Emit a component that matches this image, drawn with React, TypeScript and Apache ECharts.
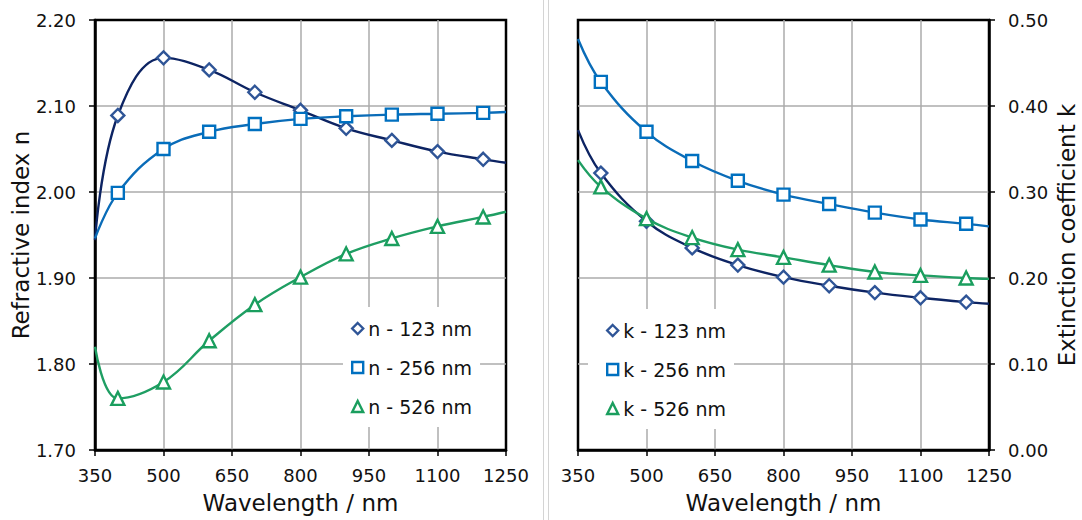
import React, { useEffect, useRef } from "react";
import * as echarts from "echarts";

// Wavelength positions of the data (nm); markers are shown at 400..1200 only
const wavelengths = [350, 400, 500, 600, 700, 800, 900, 1000, 1100, 1200, 1250];
const markerWavelengths = [400, 500, 600, 700, 800, 900, 1000, 1100, 1200];

// Refractive index n
const n123 = [1.944, 2.089, 2.156, 2.142, 2.116, 2.095, 2.074, 2.06, 2.047, 2.038, 2.034];
const n256 = [1.946, 1.999, 2.05, 2.07, 2.079, 2.085, 2.088, 2.09, 2.091, 2.092, 2.093];
const n526 = [1.82, 1.76, 1.779, 1.827, 1.869, 1.901, 1.928, 1.946, 1.96, 1.971, 1.977];

// Extinction coefficient k
const k123 = [0.372, 0.322, 0.266, 0.235, 0.215, 0.201, 0.191, 0.183, 0.177, 0.172, 0.17];
const k256 = [0.478, 0.428, 0.37, 0.336, 0.313, 0.297, 0.286, 0.276, 0.268, 0.263, 0.26];
const k526 = [0.337, 0.306, 0.269, 0.247, 0.233, 0.224, 0.215, 0.207, 0.203, 0.2, 0.199];

const xTicks = [350, 500, 650, 800, 950, 1100, 1250];
const nNames = ["n - 123 nm", "n - 256 nm", "n - 526 nm"];
const kNames = ["k - 123 nm", "k - 256 nm", "k - 526 nm"];

const FONT = "DejaVu Sans";
const NAVY = "#0d2463";
const NAVY_MARK = "#2f5597";
const BLUE = "#0a6cb8";
const BLUE_MARK = "#0070c0";
const GREEN = "#1f9e63";
const GREEN_MARK = "#1a9e5e";
const GRIDC = "#ababab";

const styles = [
  { symbol: "diamond", line: NAVY, mark: NAVY_MARK, size: 13 },
  { symbol: "rect", line: BLUE, mark: BLUE_MARK, size: 12 },
  { symbol: "triangle", line: GREEN, mark: GREEN_MARK, size: 13 },
];

function buildData(values: number[], symbol: string) {
  return wavelengths.map((w, i) => ({
    value: [w, values[i]],
    symbol: markerWavelengths.includes(w) ? symbol : "none",
  }));
}

function xAxis(gridIndex: number) {
  return {
    type: "value",
    gridIndex,
    min: 350,
    max: 1250,
    axisLine: { show: true, onZero: false, lineStyle: { color: "#000", width: 2.5 } },
    axisTick: { show: true, customValues: xTicks, length: 6, lineStyle: { color: "#000", width: 1.5 } },
    axisLabel: {
      customValues: xTicks,
      margin: 16,
      fontSize: 18,
      color: "#111",
      fontFamily: FONT,
      formatter: (v: number) => String(v),
    },
    splitLine: { show: true, showMinLine: false, showMaxLine: false, lineStyle: { color: GRIDC, width: 1.5 } },
    name: "Wavelength / nm",
    nameLocation: "middle",
    nameGap: 41,
    nameTextStyle: { fontSize: 23, color: "#111", fontFamily: FONT },
  };
}

function yAxis(gridIndex: number, position: string, min: number, max: number, name: string) {
  return {
    type: "value",
    gridIndex,
    position,
    min,
    max,
    interval: 0.1,
    axisLine: { show: true, onZero: false, lineStyle: { color: "#000", width: 2.5 } },
    axisTick: { show: true, length: 6, lineStyle: { color: "#000", width: 1.5 } },
    axisLabel: {
      margin: 19,
      fontSize: 18,
      color: "#111",
      fontFamily: FONT,
      formatter: (v: number) => v.toFixed(2),
    },
    splitLine: { show: true, showMinLine: false, showMaxLine: false, lineStyle: { color: GRIDC, width: 1.5 } },
    name,
    nameLocation: "middle",
    nameRotate: 90,
    nameGap: position === "left" ? 57 : 66,
    nameTextStyle: { fontSize: 23, color: "#111", fontFamily: FONT },
  };
}

function series(names: string[], values: number[][], axisIndex: number) {
  return names.map((name, i) => ({
    type: "line",
    name,
    xAxisIndex: axisIndex,
    yAxisIndex: axisIndex,
    data: buildData(values[i], styles[i].symbol),
    smooth: 0.4,
    symbolSize: styles[i].size,
    lineStyle: { color: styles[i].line, width: 2.4 },
    itemStyle: { color: "#fff", borderColor: styles[i].mark, borderWidth: 2.4 },
    z: 3 + i,
  }));
}

function legend(names: string[], left: number, top: number, padding: number[]) {
  return {
    data: names.map((name, i) => ({
      name,
      icon: styles[i].symbol,
      itemStyle: { color: "#fff", borderColor: styles[i].mark, borderWidth: 2.4 },
    })),
    left,
    top,
    orient: "vertical",
    backgroundColor: "#fff",
    padding,
    itemGap: 20,
    itemWidth: 11,
    itemHeight: 11,
    selectedMode: false,
    textStyle: { fontSize: 19, color: "#111", fontFamily: FONT },
  };
}

export default function App() {
  const ref = useRef<HTMLDivElement>(null);
  useEffect(() => {
    if (!ref.current) return;
    const chart = echarts.init(ref.current, null, { renderer: "svg" });
    const gridBox = { top: 20, width: 411, height: 430, show: true, borderColor: "#000", borderWidth: 2.5, backgroundColor: "transparent" };
    chart.setOption({
      animation: false,
      backgroundColor: "#fff",
      textStyle: { fontFamily: FONT },
      grid: [
        { ...gridBox, left: 95 },
        { ...gridBox, left: 578 },
      ],
      xAxis: [xAxis(0), xAxis(1)],
      yAxis: [
        yAxis(0, "left", 1.7, 2.2, "Refractive index n"),
        yAxis(1, "right", 0, 0.5, "Extinction coefficient k"),
      ],
      legend: [
        legend(nNames, 343, 307, [12, 8, 11, 8]),
        legend(kNames, 588, 309, [12, 8, 11, 18]),
      ],
      graphic: [
        { type: "line", shape: { x1: 543.5, y1: 0, x2: 543.5, y2: 520 }, style: { stroke: "#d4d4d4", lineWidth: 1 }, silent: true },
        { type: "line", shape: { x1: 548.5, y1: 0, x2: 548.5, y2: 520 }, style: { stroke: "#d4d4d4", lineWidth: 1 }, silent: true },
      ],
      series: [
        ...series(nNames, [n123, n256, n526], 0),
        ...series(kNames, [k123, k256, k526], 1),
      ],
    });
    return () => chart.dispose();
  }, []);
  return (
    <div
      ref={ref}
      style={{ position: "fixed", left: 0, top: 0, width: 1082, height: 520, background: "#fff" }}
    />
  );
}
